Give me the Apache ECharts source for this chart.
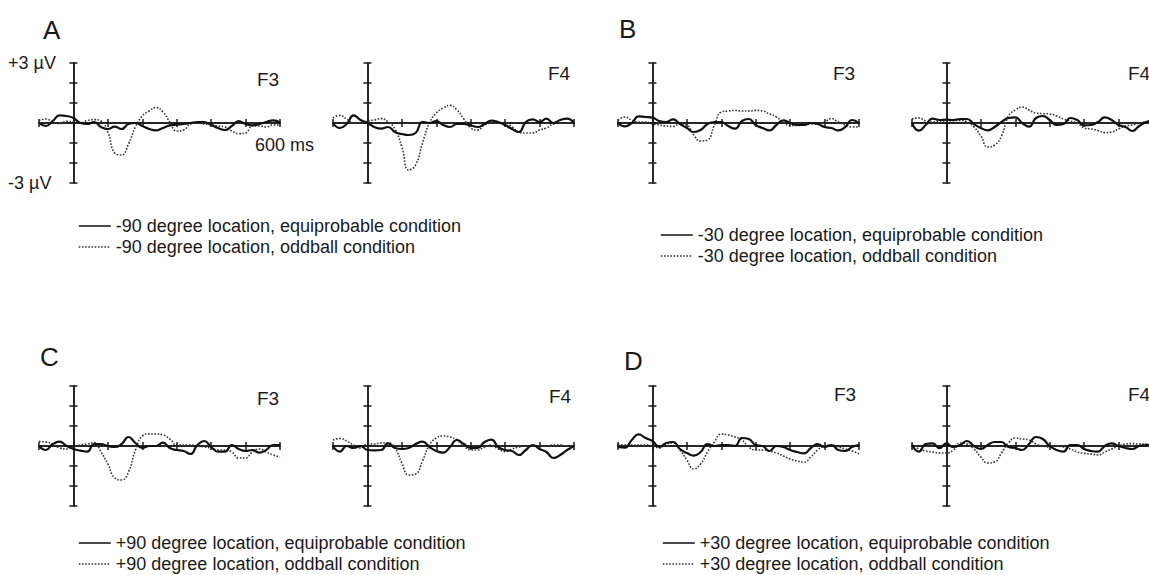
<!DOCTYPE html>
<html>
<head>
<meta charset="utf-8">
<title>ERP F3 / F4</title>
<script src="https://cdn.jsdelivr.net/npm/echarts@6/dist/echarts.min.js"></script>
<style>
  html, body { margin: 0; padding: 0; background: #fff; }
  #chart { width: 1149px; height: 575px; }
</style>
</head>
<body>
<div id="chart"></div>
<script>
// time axis, ms (one sample every 20 ms)
const times = [-100, -80, -60, -40, -20, 0, 20, 40, 60, 80, 100, 120, 140, 160, 180, 200, 220, 240,
  260, 280, 300, 320, 340, 360, 380, 400, 420, 440, 460, 480, 500, 520, 540, 560, 580, 600];

const panelLetters = ['A', 'B', 'C', 'D'];
const locations = ['-90', '-30', '+90', '+30'];
const sites = ['F3', 'F4'];

// amplitudes in microvolts
// A: -90 degrees
const aF3Equi = [0, -0.15, 0.1, 0.38, 0.35, 0.25, 0, -0.05, 0.05, -0.2, -0.3, -0.18, -0.3, -0.05, 0, -0.15, -0.3, -0.37,
  -0.25, -0.12, -0.08, -0.05, 0, 0.05, 0.05, -0.1, -0.25, -0.35, -0.15, 0.1, -0.05, -0.12, -0.05, 0.05, 0.13, 0.03];
const aF3Odd = [0.13, 0.2, 0.05, -0.03, 0.08, 0.05, 0, 0.12, 0.17, 0.1, -0.45, -1.5, -1.6, -1.05, -0.2, 0.35, 0.6, 0.77,
  0.55, 0.05, -0.4, -0.35, -0.05, 0, -0.05, -0.08, -0.15, -0.2, -0.4, -0.53, -0.5, -0.15, -0.15, -0.2, -0.1, -0.1];
const aF4Equi = [0, -0.25, -0.05, 0.38, 0.15, 0, -0.2, -0.28, -0.2, -0.45, -0.55, -0.6, -0.5, 0.05, 0, 0.1, -0.1, -0.2,
  -0.05, -0.05, -0.12, -0.2, -0.05, 0.12, 0.05, -0.1, -0.3, -0.45, 0.05, 0.18, 0.05, 0.22, 0, 0.15, 0.22, 0];
const aF4Odd = [0.25, 0.38, 0.2, 0, 0, 0.1, 0.15, 0.22, 0.05, -0.3, -1.2, -2.35, -2.1, -1.0, 0, 0.5, 0.75, 0.88,
  0.65, 0.2, -0.25, -0.35, -0.1, 0, 0, 0, -0.2, -0.45, -0.5, -0.5, -0.35, -0.25, -0.05, 0, 0, 0];
// B: -30 degrees
const bF3Equi = [0, -0.17, 0, 0.33, 0.3, 0.27, 0.1, 0.05, 0.18, -0.05, -0.25, -0.45, -0.35, -0.05, 0.05, 0.05, -0.15, -0.28,
  0.1, 0.2, -0.1, -0.25, -0.37, -0.1, 0.13, 0, -0.1, -0.1, 0, -0.05, -0.2, -0.25, -0.37, -0.2, 0.15, 0];
const bF3Odd = [0.13, 0.3, 0.15, 0.05, 0.05, -0.05, -0.1, -0.15, -0.17, -0.05, -0.1, -0.6, -0.9, -0.85, -0.1, 0.55, 0.6, 0.63,
  0.6, 0.6, 0.63, 0.6, 0.45, 0.3, 0.05, -0.12, -0.12, -0.1, -0.05, -0.05, 0.05, 0.22, 0.05, -0.1, -0.2, -0.2];
const bF4Equi = [0, -0.38, -0.1, 0.22, 0.15, 0.17, 0.15, 0.2, 0.2, -0.05, -0.25, -0.37, -0.2, 0.05, 0.25, 0.28, 0, -0.18,
  0.25, 0.35, 0.15, -0.1, -0.05, 0.25, 0.15, -0.12, -0.1, 0.05, 0.28, 0.15, -0.1, -0.2, -0.4, -0.15, 0.05, 0.13];
const bF4Odd = [0.2, 0.25, 0.1, 0.05, 0.1, 0.1, 0.12, 0.13, 0.05, -0.2, -0.65, -1.2, -1.1, -0.65, 0.35, 0.65, 0.8, 0.65,
  0.5, 0.47, 0.45, 0.35, 0.2, 0.1, 0, -0.25, -0.3, -0.37, -0.48, -0.45, -0.3, -0.15, -0.1, 0, 0.05, 0.05];
// C: +90 degrees
const cF3Equi = [0, -0.2, 0.1, 0.22, 0, -0.15, -0.23, -0.28, 0.1, 0.1, 0, -0.05, 0.1, 0.45, 0.15, -0.1, 0, 0,
  0.17, -0.1, -0.2, -0.25, -0.4, 0.05, 0.25, -0.05, -0.28, -0.28, 0.05, -0.15, -0.25, -0.2, -0.33, -0.2, 0.05, 0.05];
const cF3Odd = [0.22, 0.2, 0.1, -0.1, -0.15, -0.05, 0.05, 0.1, 0.17, -0.3, -0.9, -1.6, -1.7, -1.3, -0.2, 0.5, 0.6, 0.6,
  0.55, 0.35, 0.05, 0.05, 0.05, 0, -0.05, -0.1, -0.2, -0.2, -0.3, -0.6, -0.6, -0.3, -0.15, -0.3, -0.45, -0.55];
const cF4Equi = [0, -0.28, 0, -0.1, 0, -0.2, -0.22, -0.2, 0.13, -0.1, -0.15, -0.1, 0.1, 0.22, -0.05, -0.25, -0.33, -0.05,
  0.3, 0.1, -0.1, -0.1, 0.2, 0.32, -0.05, -0.2, -0.25, -0.45, -0.2, 0.05, -0.15, -0.3, -0.6, -0.45, -0.2, 0];
const cF4Odd = [0.3, 0.38, 0.25, 0.05, -0.1, 0.1, 0.1, 0.15, 0.15, -0.1, -0.85, -1.45, -1.4, -0.75, 0.05, 0.4, 0.5, 0.45,
  0.3, 0, -0.2, -0.2, -0.05, 0.05, -0.15, -0.28, -0.15, -0.05, 0, 0, 0, 0, 0.05, 0.05, 0, 0];
// D: +30 degrees
const dF3Equi = [-0.05, -0.08, 0.3, 0.58, 0.4, 0.25, -0.05, 0.15, 0.2, -0.15, -0.35, -0.48, -0.3, 0.1, 0, 0.05, 0.05, 0,
  0.4, 0.35, 0.05, 0, -0.25, 0, -0.05, -0.2, -0.3, -0.37, -0.1, 0.1, -0.05, 0.05, -0.2, -0.25, -0.05, 0.05];
const dF3Odd = [0.08, 0.05, 0.05, 0.05, 0.05, 0, -0.1, 0.1, 0.15, -0.2, -0.7, -1.15, -0.9, -0.3, 0.2, 0.6, 0.55, 0.45,
  0.3, -0.05, -0.2, -0.2, -0.25, -0.35, -0.5, -0.65, -0.75, -0.8, -0.55, -0.2, 0, 0.05, -0.05, -0.15, -0.25, -0.4];
const dF4Equi = [0.05, -0.28, 0.1, 0.13, -0.1, 0.13, -0.05, 0.05, 0.25, 0, -0.15, 0.05, 0.2, 0.2, -0.05, -0.1, -0.2, 0.1,
  0.45, 0.35, 0, -0.2, -0.28, 0.05, 0.05, -0.15, -0.25, -0.28, 0, 0.13, 0, -0.1, -0.15, 0, 0.05, 0.05];
const dF4Odd = [0.1, -0.15, -0.25, -0.3, -0.35, -0.35, -0.2, 0.15, 0.1, -0.15, -0.55, -0.85, -0.8, -0.35, 0.15, 0.4, 0.35, 0.3,
  0.1, 0, -0.05, 0, -0.05, -0.15, -0.3, -0.37, -0.4, -0.45, -0.3, -0.15, 0, 0.1, 0.12, 0.1, 0.1, 0.1];

// [panel][site] -> [equiprobable, oddball]
const waves = [
  [[aF3Equi, aF3Odd], [aF4Equi, aF4Odd]],
  [[bF3Equi, bF3Odd], [bF4Equi, bF4Odd]],
  [[cF3Equi, cF3Odd], [cF4Equi, cF4Odd]],
  [[dF3Equi, dF3Odd], [dF4Equi, dF4Odd]]
];

// layout (pixels)
const FONT = '"Liberation Sans", Arial, Helvetica, sans-serif';
const INK = '#1a1a1a';
const plotLefts = [[39, 333], [618, 912], [39, 333], [618, 912]];
const plotTops = [63, 63, 386, 386];
const plotW = 241, plotH = 120;
const letterPos = [[43, 30], [619, 29], [40, 357], [624, 361]];
const sitePos = [[[257, 79], [548, 73]], [[833, 73], [1128, 73]], [[257, 398], [549, 396]], [[834, 394], [1128, 394]]];
const legendPos = [[78, 217], [660, 226], [78, 534], [662, 534]];

const chart = echarts.init(document.getElementById('chart'), null, { renderer: 'svg' });

const grid = [], xAxis = [], yAxis = [], series = [], legend = [], graphic = [];

function axisBase(g) {
  return {
    gridIndex: g,
    type: 'value',
    axisLine: { onZero: true, lineStyle: { color: INK, width: 1.5 } },
    axisTick: { show: true, length: 4, lineStyle: { color: INK, width: 1.5 } },
    axisLabel: { show: false },
    splitLine: { show: false }
  };
}

panelLetters.forEach((letter, p) => {
  const equiName = locations[p] + ' degree location, equiprobable condition';
  const oddName = locations[p] + ' degree location, oddball condition';

  sites.forEach((site, s) => {
    const g = p * 2 + s;
    grid.push({ left: plotLefts[p][s], top: plotTops[p], width: plotW, height: plotH, outerBoundsMode: 'none' });
    // two axes per direction so the ticks cross the axis line
    ['bottom', 'top'].forEach(pos => {
      xAxis.push(Object.assign(axisBase(g), { min: -100, max: 600, interval: 100, position: pos }));
    });
    ['left', 'right'].forEach(pos => {
      yAxis.push(Object.assign(axisBase(g), { min: -3, max: 3, interval: 1, position: pos }));
    });

    const [equi, odd] = waves[p][s];
    series.push({
      name: equiName, type: 'line', xAxisIndex: g * 2, yAxisIndex: g * 2,
      data: times.map((t, i) => [t, equi[i]]),
      smooth: true, symbol: 'none', z: 3,
      lineStyle: { color: '#111', width: 2.2, type: 'solid' },
      itemStyle: { color: '#111' }
    });
    series.push({
      name: oddName, type: 'line', xAxisIndex: g * 2, yAxisIndex: g * 2,
      data: times.map((t, i) => [t, odd[i]]),
      smooth: true, symbol: 'none', z: 2,
      lineStyle: { color: '#333', width: 1.6, type: [1.6, 1.6] },
      itemStyle: { color: '#333' }
    });

    graphic.push({
      type: 'text', x: sitePos[p][s][0], y: sitePos[p][s][1],
      style: { text: site, font: '19px ' + FONT, fill: INK, textVerticalAlign: 'middle' }
    });
  });

  // one column of two rows; explicit height stops it wrapping near the bottom edge
  legend.push({
    left: legendPos[p][0], top: legendPos[p][1], height: 60, orient: 'vertical', padding: 0,
    itemWidth: 32, itemHeight: 14, itemGap: 3, selectedMode: false,
    itemStyle: { opacity: 0 },
    lineStyle: { width: 1.6 },
    data: [equiName, oddName],
    textStyle: { fontFamily: FONT, fontSize: 18, color: INK }
  });

  graphic.push({
    type: 'text', x: letterPos[p][0], y: letterPos[p][1],
    style: { text: letter, font: '26px ' + FONT, fill: INK, textVerticalAlign: 'middle' }
  });
});

// scale annotations on the first plot
graphic.push(
  { type: 'text', x: 8, y: 63, style: { text: '+3 \u00b5V', font: '18px ' + FONT, fill: INK, textVerticalAlign: 'middle' } },
  { type: 'text', x: 8, y: 183, style: { text: '-3 \u00b5V', font: '18px ' + FONT, fill: INK, textVerticalAlign: 'middle' } },
  { type: 'text', x: 255, y: 145, style: { text: '600 ms', font: '18px ' + FONT, fill: INK, textVerticalAlign: 'middle' } }
);

chart.setOption({
  animation: false,
  backgroundColor: '#fff',
  grid, xAxis, yAxis, series, legend, graphic
});
</script>
</body>
</html>
